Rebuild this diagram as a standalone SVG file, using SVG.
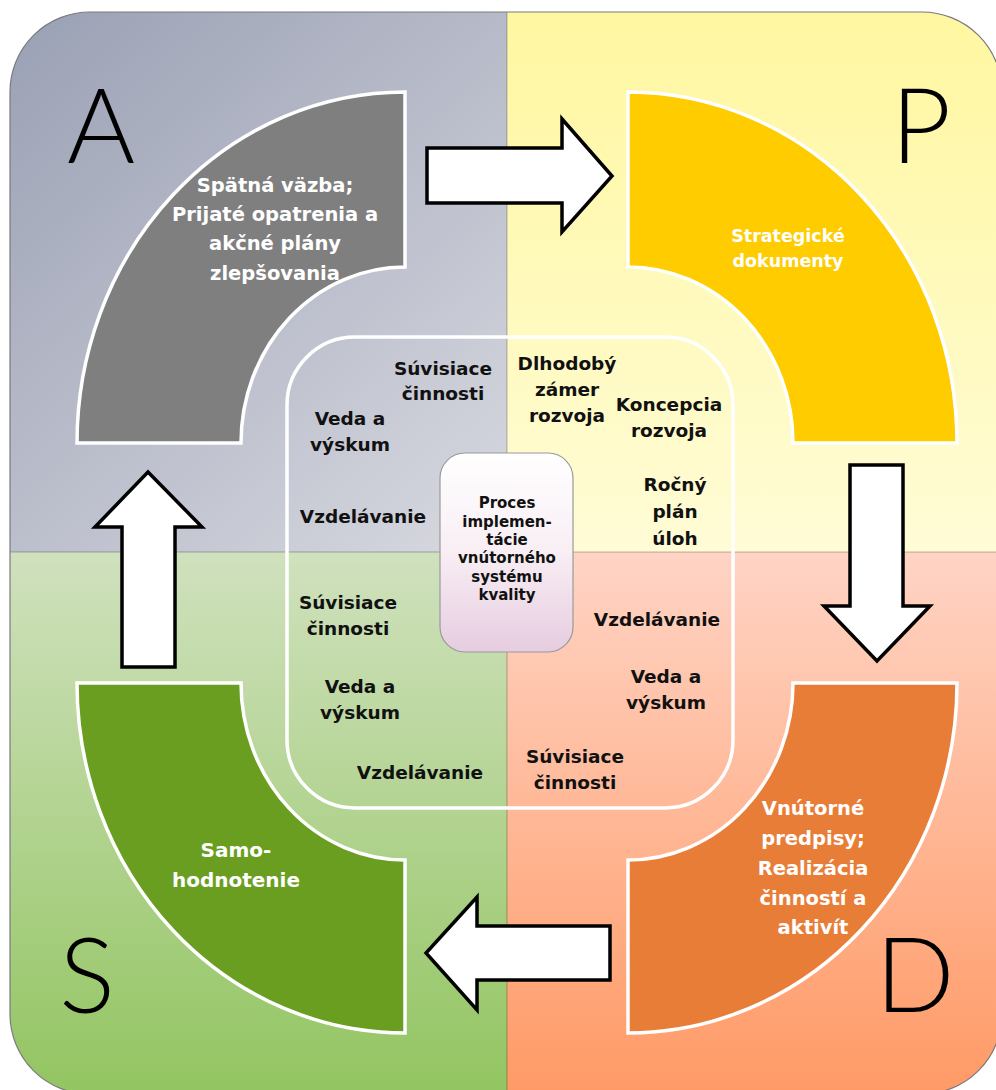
<svg xmlns="http://www.w3.org/2000/svg" width="996" height="1090" viewBox="0 0 996 1090">
<defs>
<clipPath id="outerClip"><rect x="10" y="12" width="992" height="1082" rx="80"/></clipPath>
<linearGradient id="gA" gradientUnits="userSpaceOnUse" x1="10" y1="12" x2="507" y2="552"><stop offset="0" stop-color="#9aa0b4"/><stop offset="1" stop-color="#d8d9e0"/></linearGradient>
<linearGradient id="gP" gradientUnits="userSpaceOnUse" x1="0" y1="12" x2="0" y2="552"><stop offset="0" stop-color="#fff7a0"/><stop offset="1" stop-color="#fffcd6"/></linearGradient>
<linearGradient id="gS" gradientUnits="userSpaceOnUse" x1="0" y1="552" x2="0" y2="1090"><stop offset="0" stop-color="#d0e1be"/><stop offset="1" stop-color="#93c562"/></linearGradient>
<linearGradient id="gD" gradientUnits="userSpaceOnUse" x1="0" y1="552" x2="0" y2="1090"><stop offset="0" stop-color="#ffd4c5"/><stop offset="1" stop-color="#ff9a66"/></linearGradient>
<linearGradient id="gC" x1="0" y1="0" x2="0" y2="1"><stop offset="0" stop-color="#ffffff"/><stop offset="0.5" stop-color="#f8eef4"/><stop offset="1" stop-color="#e6cce0"/></linearGradient>
</defs>
<style>
.ring{stroke:#ffffff;stroke-width:3.5;stroke-linejoin:miter}
.arrow{fill:#ffffff;stroke:#000000;stroke-width:3.5;stroke-linejoin:miter}
.big{font-family:Lato,"DejaVu Sans",sans-serif;font-weight:300;font-size:104px;fill:#000000}
.wt{font-family:"DejaVu Sans",sans-serif;font-weight:bold;fill:#ffffff;text-anchor:middle}
.bt{font-family:"DejaVu Sans",sans-serif;font-weight:bold;font-size:18.5px;fill:#111111;text-anchor:middle}
.ct{font-family:"DejaVu Sans",sans-serif;font-weight:bold;font-size:15px;fill:#111111;text-anchor:middle}
</style>
<g id="background" clip-path="url(#outerClip)">
<rect x="0" y="0" width="507" height="552" fill="url(#gA)"/>
<rect x="507" y="0" width="489" height="552" fill="url(#gP)"/>
<rect x="0" y="552" width="507" height="538" fill="url(#gS)"/>
<rect x="507" y="552" width="489" height="538" fill="url(#gD)"/>
<line x1="0" y1="552" x2="996" y2="552" stroke="#000000" stroke-opacity="0.18" stroke-width="1.5"/>
<line x1="507" y1="0" x2="507" y2="1090" stroke="#000000" stroke-opacity="0.18" stroke-width="1.5"/>
</g>
<rect x="10" y="12" width="992" height="1082" rx="80" fill="none" stroke="#7a7a80" stroke-width="1.2"/>
<g id="letters">
<text class="big" x="101" y="163" text-anchor="middle">A</text>
<text class="big" x="921" y="163" text-anchor="middle">P</text>
<text class="big" x="87" y="1013" text-anchor="middle">S</text>
<text class="big" x="915" y="1012" text-anchor="middle">D</text>
</g>
<g id="inner-frame">
<rect x="287" y="337" width="446" height="471" rx="68" fill="none" stroke="#ffffff" stroke-width="3.5"/>
</g>
<g id="node-A">
<path class="ring" fill="#7f7f7f" d="M405,92 L405,267 A164,176 0 0 0 241,443 L77,443 A328,351 0 0 1 405,92 Z"/>
<text class="wt" font-size="19.5"><tspan x="275" y="192">Spätná väzba;</tspan><tspan x="275" y="221">Prijaté opatrenia a</tspan><tspan x="275" y="250">akčné plány</tspan><tspan x="275" y="280">zlepšovania</tspan></text>
</g>
<g id="node-P">
<path class="ring" fill="#ffcc00" d="M628,92 A329,351 0 0 1 957,443 L793,443 A165,176 0 0 0 628,267 Z"/>
<text class="wt" font-size="17.5"><tspan x="788" y="242">Strategické</tspan><tspan x="788" y="267">dokumenty</tspan></text>
</g>
<g id="node-D">
<path class="ring" fill="#e87d38" d="M957,683 A329,350 0 0 1 628,1033 L628,860 A165,177 0 0 0 793,683 Z"/>
<text class="wt" font-size="19.5"><tspan x="813" y="815">Vnútorné</tspan><tspan x="813" y="845">predpisy;</tspan><tspan x="813" y="875">Realizácia</tspan><tspan x="813" y="905">činností a</tspan><tspan x="813" y="934">aktivít</tspan></text>
</g>
<g id="node-S">
<path class="ring" fill="#6a9e20" d="M405,1033 A328,350 0 0 1 77,683 L241,683 A164,177 0 0 0 405,860 Z"/>
<text class="wt" font-size="20"><tspan x="236" y="857">Samo-</tspan><tspan x="236" y="887">hodnotenie</tspan></text>
</g>
<g id="inner-labels">
<text class="bt"><tspan x="443" y="375">Súvisiace</tspan><tspan x="443" y="400">činnosti</tspan></text>
<text class="bt"><tspan x="350" y="425">Veda a</tspan><tspan x="350" y="451">výskum</tspan></text>
<text class="bt" x="363" y="523">Vzdelávanie</text>
<text class="bt"><tspan x="567" y="370">Dlhodobý</tspan><tspan x="567" y="396">zámer</tspan><tspan x="567" y="422">rozvoja</tspan></text>
<text class="bt"><tspan x="669" y="411">Koncepcia</tspan><tspan x="669" y="437">rozvoja</tspan></text>
<text class="bt"><tspan x="675" y="491">Ročný</tspan><tspan x="675" y="518">plán</tspan><tspan x="675" y="545">úloh</tspan></text>
<text class="bt"><tspan x="348" y="609">Súvisiace</tspan><tspan x="348" y="635">činnosti</tspan></text>
<text class="bt"><tspan x="360" y="693">Veda a</tspan><tspan x="360" y="719">výskum</tspan></text>
<text class="bt" x="420" y="779">Vzdelávanie</text>
<text class="bt" x="657" y="626">Vzdelávanie</text>
<text class="bt"><tspan x="666" y="683">Veda a</tspan><tspan x="666" y="709">výskum</tspan></text>
<text class="bt"><tspan x="575" y="763">Súvisiace</tspan><tspan x="575" y="789">činnosti</tspan></text>
</g>
<g id="node-center">
<rect x="440" y="453" width="133" height="199" rx="25" fill="url(#gC)" stroke="#9a9a9a" stroke-width="1.2"/>
<text class="ct"><tspan x="507" y="508">Proces</tspan><tspan x="507" y="527">implemen-</tspan><tspan x="507" y="545">tácie</tspan><tspan x="507" y="563">vnútorného</tspan><tspan x="507" y="582">systému</tspan><tspan x="507" y="600">kvality</tspan></text>
</g>
<g id="connectors">
<polygon class="arrow" points="427,148 562,148 562,119 612,176 562,232 562,203 427,203"/>
<polygon class="arrow" points="850,465 903,465 903,606 930,606 877,661 824,606 850,606"/>
<polygon class="arrow" points="610,926 610,980 477,980 477,1010 426,953 477,897 477,926"/>
<polygon class="arrow" points="122,667 122,527 95,527 148,472 202,527 175,527 175,667"/>
</g>
</svg>
